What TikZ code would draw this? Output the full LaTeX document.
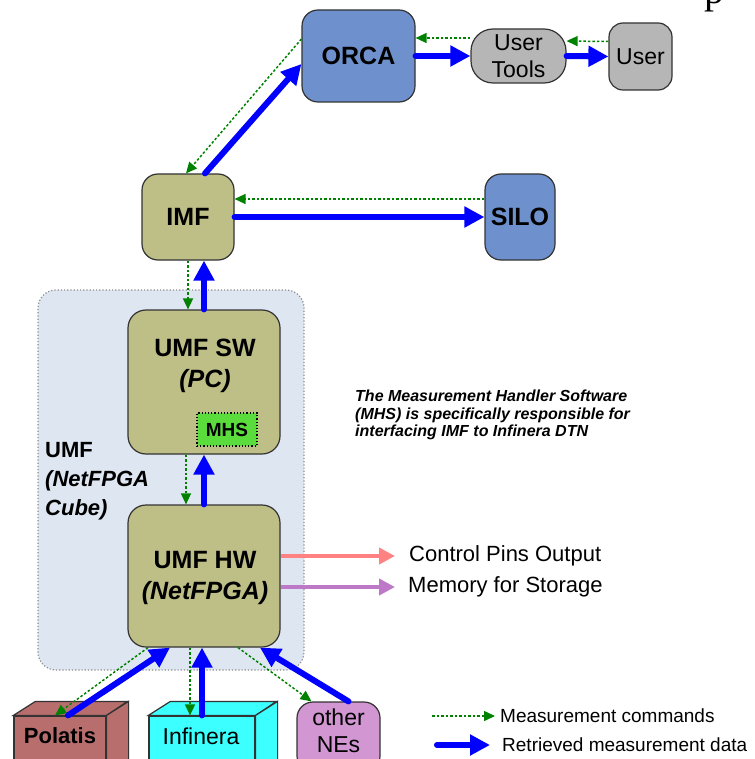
\documentclass[tikz,border=0pt]{standalone}
\usepackage{fontspec}
\setmainfont{Liberation Sans}
\newfontfamily\serifp{Liberation Serif}
\usetikzlibrary{arrows.meta}
\definecolor{boxblue}{RGB}{110,145,205}
\definecolor{olive}{RGB}{190,190,135}
\definecolor{gbox}{RGB}{182,182,182}
\definecolor{clusterbg}{RGB}{222,230,242}
\definecolor{mhsgreen}{RGB}{90,220,60}
\definecolor{polc}{RGB}{185,110,110}
\definecolor{infc}{RGB}{60,255,255}
\definecolor{nec}{RGB}{210,150,210}
\definecolor{cmdgreen}{RGB}{0,130,0}
\definecolor{redarr}{RGB}{255,130,130}
\definecolor{purarr}{RGB}{190,120,200}
\begin{document}
\begin{tikzpicture}[x=1pt,y=-1pt,
  rbox/.style={draw=black!80,line width=1.2pt,inner sep=0pt,align=center},
  bigb/.style={font=\fontsize{25}{31}\selectfont\bfseries},
  medr/.style={font=\fontsize{23}{27}\selectfont},
  data/.style={draw=blue,line width=6pt,line cap=round,-{Triangle[length=20pt,width=20pt]}},
  cmd/.style={draw=cmdgreen,line width=1.5pt,dash pattern=on 2.5pt off 2pt,-{Triangle[length=11pt,width=10pt]}},
  side/.style={line width=4pt,-{Triangle[length=16pt,width=16pt]}},
  txt/.style={inner sep=0pt}]
\useasboundingbox (0,0) rectangle (754,759);
% stray glyph at the top edge
\node[anchor=base west,inner sep=0pt,font=\fontsize{40}{40}\serifp] (pglyph) at (704,4) {p};
% cluster background
\node[draw=black!45,dotted,line width=1.2pt,fill=clusterbg,rounded corners=18pt,minimum width=266pt,minimum height=380pt,inner sep=0pt] (cluster) at (171,480) {};
% main nodes
\node[rbox,fill=boxblue,rounded corners=16pt,minimum width=113pt,minimum height=92pt,bigb] (orca) at (358.5,56) {ORCA};
\node[rbox,fill=gbox,rounded corners=22pt,minimum width=95pt,minimum height=54pt,medr] (ut) at (518.5,56) {User\\Tools};
\node[rbox,fill=gbox,rounded corners=14pt,minimum width=63pt,minimum height=67pt,medr] (user) at (640.5,56.5) {User};
\node[rbox,fill=olive,rounded corners=16pt,minimum width=92pt,minimum height=86pt,bigb] (imf) at (188,217) {IMF};
\node[rbox,fill=boxblue,rounded corners=16pt,minimum width=70pt,minimum height=86pt,bigb] (silo) at (520,217) {SILO};
\node[rbox,fill=olive,rounded corners=18pt,minimum width=152pt,minimum height=144pt] (sw) at (204,382) {};
\node[txt,bigb,align=center] (swt) at (205,366) {UMF SW\\\textit{(PC)}};
\node[draw=black,dotted,line width=1.2pt,fill=mhsgreen,minimum width=60pt,minimum height=33pt,inner sep=0pt,font=\fontsize{19}{19}\selectfont\bfseries] (mhs) at (227,429.5) {MHS};
\node[rbox,fill=olive,rounded corners=18pt,minimum width=152pt,minimum height=142pt] (hw) at (204,576) {};
\node[txt,bigb,align=center] (hwt) at (205,578) {UMF HW\\\textit{(NetFPGA)}};
\node[txt,anchor=north west,align=left,font=\fontsize{22}{29}\selectfont\bfseries] (umfl) at (45,442) {UMF\\\textit{(NetFPGA}\\\textit{Cube)}};
\node[txt,anchor=north west,align=left,font=\fontsize{16}{17.5}\selectfont\bfseries\itshape] (desc) at (355,390) {The Measurement Handler Software\\(MHS) is specifically responsible for\\interfacing IMF to Infinera DTN};
% side outputs
\node[txt,anchor=west,font=\fontsize{22}{22}\selectfont] (cpo) at (409,556) {Control Pins Output};
\node[txt,anchor=west,font=\fontsize{22}{22}\selectfont] (mfs) at (408,587) {Memory for Storage};
\coordinate (redend) at (395,556);
\coordinate (purend) at (395,587);
\draw[side,draw=redarr] (hw.east |- redend) -- (redend);
\draw[side,draw=purarr] (hw.east |- purend) -- (purend);
% network elements
\node[draw=black!80,line width=1.2pt,fill=polc,minimum width=92pt,minimum height=50pt,inner sep=0pt] (pol) at (60,741) {};
\draw[draw=black!80,line width=1.2pt,fill=polc] (pol.north west) -- ++(22,-14) -- ++(92,0) -- (pol.north east) -- cycle;
\draw[draw=black!80,line width=1.2pt,fill=polc] (pol.north east) -- ++(22,-14) -- ++(0,60) -- (pol.south east) -- cycle;
\node[txt,font=\fontsize{22}{22}\selectfont\bfseries] (polt) at (60,736) {Polatis};
\node[draw=black!80,line width=1.2pt,fill=infc,minimum width=106pt,minimum height=50pt,inner sep=0pt] (inf) at (202,741) {};
\draw[draw=black!80,line width=1.2pt,fill=infc] (inf.north west) -- ++(22,-14) -- ++(106,0) -- (inf.north east) -- cycle;
\draw[draw=black!80,line width=1.2pt,fill=infc] (inf.north east) -- ++(22,-14) -- ++(0,60) -- (inf.south east) -- cycle;
\node[txt,font=\fontsize{23}{23}\selectfont] (inft) at (201,736) {Infinera};
\node[rbox,fill=nec,rounded corners=16pt,minimum width=83pt,minimum height=70pt] (ne) at (338.5,737) {};
\node[txt,medr,align=center] (net) at (338.5,731) {other\\NEs};
% connectors: top row
\draw[data] (orca.east) -- (ut.west);
\draw[data] (ut.east) -- (user.west);
\draw[cmd] ([yshift=15pt]user.west) -- ([yshift=15pt]ut.east);
\draw[cmd] ([yshift=18pt]ut.west) -- ([yshift=18pt]orca.east);
\draw[data] ([xshift=17pt]imf.north) -- ([yshift=-8pt]orca.west);
\draw[cmd] ([yshift=17pt]orca.west) -- ([xshift=-2pt]imf.north);
\draw[data] (imf.east) -- (silo.west);
\draw[cmd] ([yshift=18pt]silo.west) -- ([yshift=18pt]imf.east);
% vertical chain
\draw[cmd] ([xshift=-16pt]sw.north |- imf.south) -- ([xshift=-16pt]sw.north);
\draw[data] (sw.north) -- (sw.north |- imf.south);
\draw[cmd] ([xshift=-18pt]sw.south) -- ([xshift=-18pt]hw.north);
\draw[data] (hw.north) -- (sw.south);
% bottom elements
\draw[cmd] ([xshift=-56pt]hw.south) -- ([xshift=-5pt]pol.north);
\draw[data] ([xshift=8pt]pol.north) -- ([xshift=-34pt]hw.south);
\draw[cmd] ([xshift=-14pt]hw.south) -- ([xshift=-14pt]hw.south |- inf.north);
\draw[data] (inf.north) -- (inf.north |- hw.south);
\draw[cmd] ([xshift=34pt]hw.south) -- ([xshift=-27pt]ne.north);
\draw[data] ([xshift=10pt]ne.north) -- ([xshift=56pt]hw.south);
% legend
\coordinate (lg1a) at (432,716);
\coordinate (lg1b) at (495,716);
\coordinate (lg2a) at (437,745);
\coordinate (lg2b) at (490,745);
\draw[cmd] (lg1a) -- (lg1b);
\draw[data] (lg2a) -- (lg2b);
\node[txt,anchor=west,font=\fontsize{19}{19}\selectfont] (lgt1) at (500,716) {Measurement commands};
\node[txt,anchor=west,font=\fontsize{19}{19}\selectfont] (lgt2) at (502,745) {Retrieved measurement data};
\end{tikzpicture}
\end{document}
